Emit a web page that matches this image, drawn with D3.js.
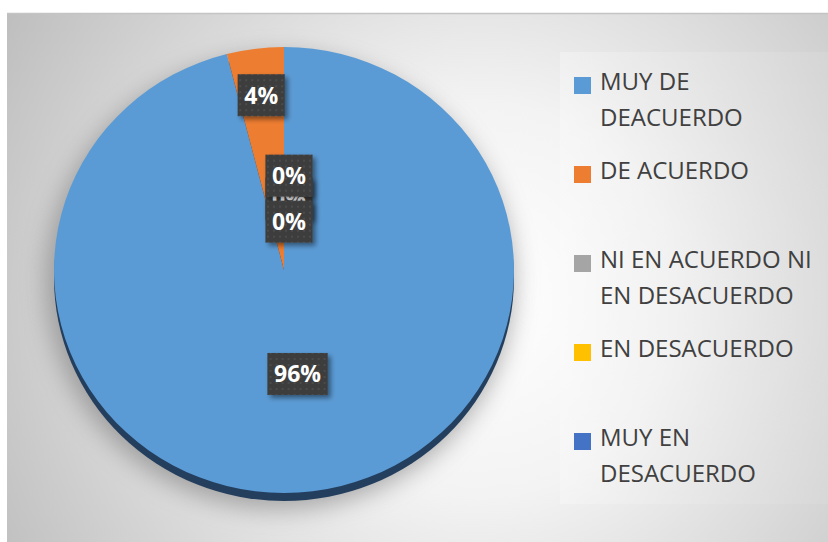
<!DOCTYPE html>
<html>
<head>
<meta charset="utf-8">
<script src="https://cdn.jsdelivr.net/npm/d3@7/dist/d3.min.js"></script>
<style>
  html, body { margin: 0; padding: 0; background: #fff; }
  svg { display: block; }
</style>
</head>
<body>
<script>
/*
 * Pie chart of survey answers, drawn with D3.
 */

const WIDTH = 828;
const HEIGHT = 542;

// the pie is a slightly tilted disc, so it is drawn as an ellipse
const PIE_CX = 284;
const PIE_CY = 270;
const PIE_RX = 230;
const PIE_RY = 223;
const RIM_DEPTH = 8;

const FONT = "'Open Sans', 'DejaVu Sans', sans-serif";

// data
const CATEGORIES = [
  'MUY DE DEACUERDO',
  'DE ACUERDO',
  'NI EN ACUERDO NI EN DESACUERDO',
  'EN DESACUERDO',
  'MUY EN DESACUERDO'
];
const VALUES = [96, 4, 0, 0, 0];
const PERCENT_LABELS = ['96%', '4%', '0%', '0%', '0%'];

// legend text as it wraps in the picture
const LEGEND_LINES = [
  ['MUY DE', 'DEACUERDO'],
  ['DE ACUERDO'],
  ['NI EN ACUERDO NI', 'EN DESACUERDO'],
  ['EN DESACUERDO'],
  ['MUY EN', 'DESACUERDO']
];

const COLORS = ['#5b9bd5', '#ed7d31', '#a5a5a5', '#ffc000', '#4472c4'];

const svg = d3.select('body')
  .append('svg')
    .attr('width', WIDTH)
    .attr('height', HEIGHT);

const defs = svg.append('defs');

// background gradient of the chart area
const bg = defs.append('radialGradient')
    .attr('id', 'bg-grad')
    .attr('gradientUnits', 'userSpaceOnUse')
    .attr('cx', 480).attr('cy', 300).attr('r', 560);
bg.append('stop').attr('offset', 0).attr('stop-color', '#ffffff');
bg.append('stop').attr('offset', 0.35).attr('stop-color', '#f3f3f3');
bg.append('stop').attr('offset', 1).attr('stop-color', '#bdbdbd');

const legBg = defs.append('linearGradient')
    .attr('id', 'leg-grad')
    .attr('x1', 0).attr('y1', 0).attr('x2', 1).attr('y2', 0);
legBg.append('stop').attr('offset', 0).attr('stop-color', '#fbfbfb');
legBg.append('stop').attr('offset', 1).attr('stop-color', '#dcdcdc');

// soft shadow round the pie
const pieShadow = defs.append('filter')
    .attr('id', 'pie-shadow')
    .attr('x', '-20%').attr('y', '-20%')
    .attr('width', '140%').attr('height', '140%');
pieShadow.append('feGaussianBlur')
    .attr('stdDeviation', 12);

// shadow of the label boxes
const boxShadow = defs.append('filter')
    .attr('id', 'box-shadow')
    .attr('x', '-30%').attr('y', '-30%')
    .attr('width', '170%').attr('height', '170%');
boxShadow.append('feDropShadow')
    .attr('dx', 3).attr('dy', 3)
    .attr('stdDeviation', 2.5)
    .attr('flood-color', '#000')
    .attr('flood-opacity', 0.45);

// dotted fill of the label boxes
const dots = defs.append('pattern')
    .attr('id', 'dots')
    .attr('patternUnits', 'userSpaceOnUse')
    .attr('width', 6).attr('height', 6);
dots.append('rect')
    .attr('width', 6).attr('height', 6)
    .attr('fill', '#3d3d3d');
dots.append('rect')
    .attr('x', 2).attr('y', 2)
    .attr('width', 2).attr('height', 2)
    .attr('fill', '#4b4b4b');

// chart area
svg.append('rect')
    .attr('x', 7).attr('y', 13)
    .attr('width', WIDTH - 7).attr('height', HEIGHT - 13)
    .attr('fill', 'url(#bg-grad)');
svg.append('line')
    .attr('x1', 7).attr('x2', WIDTH)
    .attr('y1', 13.5).attr('y2', 13.5)
    .attr('stroke', '#c4c4c4')
    .attr('stroke-width', 1.5);

// legend panel
svg.append('rect')
    .attr('x', 560).attr('y', 52)
    .attr('width', WIDTH - 560).attr('height', 452)
    .attr('fill', 'url(#leg-grad)')
    .attr('opacity', 0.35);

/*
 * The pie.
 */

const yScale = PIE_RY / PIE_RX;

const pie = d3.pie()
    .sort(null)
    .value(d => d);
const arcs = pie(VALUES);

const arc = d3.arc()
    .innerRadius(0)
    .outerRadius(PIE_RX);

// shadow and dark rim under the disc
svg.append('ellipse')
    .attr('cx', PIE_CX - 4)
    .attr('cy', PIE_CY + RIM_DEPTH + 4)
    .attr('rx', PIE_RX + 4)
    .attr('ry', PIE_RY + 4)
    .attr('fill', '#6f6f6f')
    .attr('opacity', 0.55)
    .attr('filter', 'url(#pie-shadow)');

svg.append('ellipse')
    .attr('cx', PIE_CX)
    .attr('cy', PIE_CY + RIM_DEPTH)
    .attr('rx', PIE_RX)
    .attr('ry', PIE_RY)
    .attr('fill', '#243f5e');

const pieG = svg.append('g')
    .attr('transform', `translate(${PIE_CX}, ${PIE_CY}) scale(1, ${yScale})`);

pieG.selectAll('path')
  .data(arcs)
  .enter()
  .append('path')
    .attr('d', arc)
    .attr('fill', (d, i) => COLORS[i]);

/*
 * Percentage labels.
 */

const total = d3.sum(VALUES);
const zeroIdx = arcs.map((d, i) => i).filter(i => VALUES[i] === 0);

const labelPos = (d, i) => {
  const share = VALUES[i] / total;
  let r = share > 0.5 ? 0.47 : (share > 0 ? 0.79 : 0.32);
  const a = (d.startAngle + d.endAngle) / 2;
  let x = Math.sin(a) * r * PIE_RX;
  let y = -Math.cos(a) * r * PIE_RX * yScale;
  if (share === 0) {
    // stack the empty slices so their labels do not sit on each other
    const k = zeroIdx.indexOf(i) - (zeroIdx.length - 1) / 2;
    x += 5;
    y += k * 23;
  }
  return [PIE_CX + x, PIE_CY + y];
};

// the middle of the stacked labels is drawn first, so it ends up underneath
const drawOrder = arcs.map((d, i) => i)
    .sort((a, b) => {
      const ka = zeroIdx.length > 2 && a === zeroIdx[1] ? 0 : 1;
      const kb = zeroIdx.length > 2 && b === zeroIdx[1] ? 0 : 1;
      return ka - kb || a - b;
    });

const labels = svg.append('g')
  .selectAll('g')
  .data(drawOrder)
  .enter()
  .append('g')
    .attr('transform', i => {
      const [x, y] = labelPos(arcs[i], i);
      return `translate(${x}, ${y})`;
    });

labels.append('text')
    .attr('text-anchor', 'middle')
    .attr('dy', '0.36em')
    .attr('fill', '#fff')
    .attr('font-family', FONT)
    .attr('font-weight', 'bold')
    .attr('font-size', 23)
    .text(i => PERCENT_LABELS[i])
    .each(function() {
      const b = this.getBBox();
      const w = b.width + 13;
      d3.select(this.parentNode)
        .insert('rect', 'text')
          .attr('x', -w / 2)
          .attr('y', -21)
          .attr('width', w)
          .attr('height', 42)
          .attr('fill', 'url(#dots)')
          .attr('filter', 'url(#box-shadow)');
    });

/*
 * Legend.
 */

const LEGEND_X = 574;
const LEGEND_Y0 = 90;
const LEGEND_STEP = 89;
const LINE_H = 36;
const SWATCH = 17;

const legend = svg.append('g')
  .selectAll('g')
  .data(CATEGORIES)
  .enter()
  .append('g')
    .attr('transform', (d, i) => `translate(${LEGEND_X}, ${LEGEND_Y0 + i * LEGEND_STEP})`);

legend.append('rect')
    .attr('x', 0)
    .attr('y', -13)
    .attr('width', SWATCH)
    .attr('height', SWATCH)
    .attr('fill', (d, i) => COLORS[i]);

legend.append('text')
    .attr('x', 26)
    .attr('fill', '#404040')
    .attr('font-family', FONT)
    .attr('font-size', 24)
  .selectAll('tspan')
  .data((d, i) => LEGEND_LINES[i])
  .enter()
  .append('tspan')
    .attr('x', 26)
    .attr('y', (d, j) => j * LINE_H)
    .text(d => d);
</script>
</body>
</html>
